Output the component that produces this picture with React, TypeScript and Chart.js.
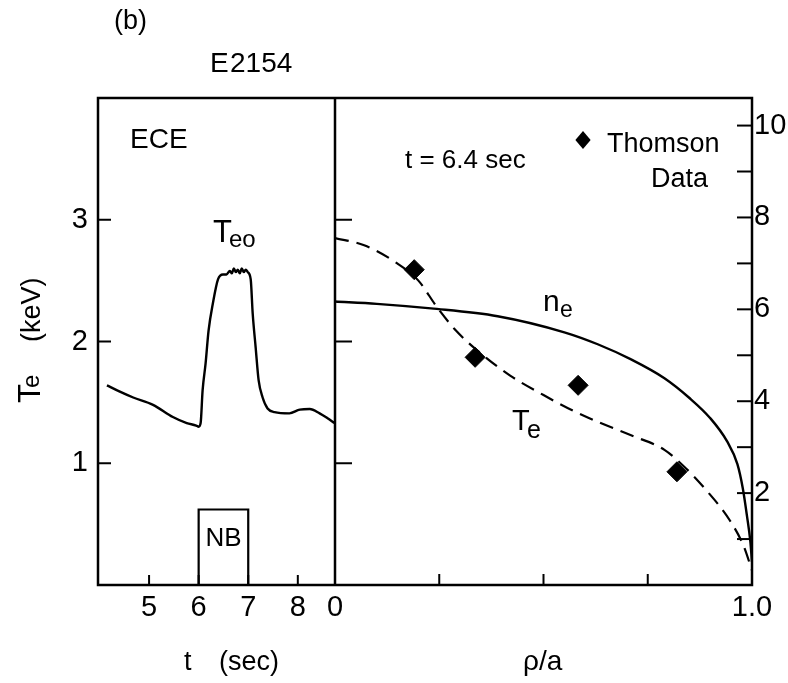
import React, { useEffect, useRef } from "react";
import { Chart, registerables } from "chart.js";

Chart.register(...registerables);

// ECE central electron temperature T_e0 versus time (sec, keV)
const eceTime = [4.15, 4.4, 4.68, 5.08, 5.48, 5.76, 5.95, 6.0, 6.04, 6.08, 6.14, 6.2, 6.29, 6.39, 6.49, 6.56, 6.63, 6.67, 6.71, 6.75, 6.79, 6.83, 6.87, 6.91, 6.95, 6.99, 7.05, 7.09, 7.15, 7.21, 7.29, 7.39, 7.53, 7.83, 8.04, 8.24, 8.44, 8.6, 8.74];
const eceTe = [1.64, 1.59, 1.54, 1.48, 1.38, 1.33, 1.31, 1.3, 1.33, 1.6, 1.82, 2.09, 2.32, 2.51, 2.55, 2.55, 2.58, 2.56, 2.6, 2.57, 2.59, 2.56, 2.6, 2.57, 2.59, 2.57, 2.51, 2.23, 1.95, 1.68, 1.54, 1.45, 1.42, 1.41, 1.44, 1.445, 1.41, 1.37, 1.33];

// Neutral-beam pulse window (sec) and the height of its marker box (keV scale)
const nbWindow = [6, 7];
const nbBoxHeight = 0.62;

// Profiles at t = 6.4 sec versus rho/a
const profileRho = [0, 0.07, 0.15, 0.2, 0.245, 0.29, 0.34, 0.42, 0.5, 0.56, 0.63, 0.71, 0.79, 0.835, 0.89, 0.947, 0.98, 1.0];
const profileTe = [2.85, 2.79, 2.64, 2.5, 2.28, 2.09, 1.93, 1.72, 1.56, 1.45, 1.34, 1.23, 1.11, 0.98, 0.78, 0.53, 0.32, 0.12];

const densityRho = [0, 0.1, 0.23, 0.39, 0.55, 0.63, 0.71, 0.79, 0.85, 0.9, 0.94, 0.965, 0.978, 0.988, 0.996, 1.0];
const densityNe = [6.17, 6.12, 6.02, 5.85, 5.5, 5.24, 4.91, 4.5, 4.07, 3.63, 3.13, 2.63, 2.1, 1.5, 0.95, 0.5];

// Thomson scattering points (keV)
const thomsonRho = [0.19, 0.336, 0.583, 0.82];
const thomsonTe = [2.59, 1.87, 1.64, 0.93];

// Axis ranges and ticks
const timeRange = [3.97, 8.75];
const timeTicks = [5, 6, 7, 8];
const rhoTicks = [0, 1];
const rhoMinorTicks = [0.25, 0.5, 0.75];
const teRange = [0, 4];
const teTicks = [1, 2, 3];
const neRange = [0, 10.6];
const neTicks = [2, 4, 6, 8, 10];
const neMinorTicks = [1, 2, 3, 4, 5, 6, 7, 8, 9, 10];

const FONT = "'Liberation Sans', Arial, sans-serif";
const INK = "#000000";

const pts = (xs: number[], ys: number[]) => xs.map((x, i) => ({ x, y: ys[i] }));

const panelDecor = {
  id: "panelDecor",
  afterDatasetsDraw(chart: any) {
    const { ctx, chartArea: a, scales } = chart;
    const xt = scales.xt;
    const xr = scales.xr;
    const y = scales.y;
    const yn = scales.yn;

    const line = (x1: number, y1: number, x2: number, y2: number) => {
      ctx.beginPath();
      ctx.moveTo(x1, y1);
      ctx.lineTo(x2, y2);
      ctx.stroke();
    };
    const text = (s: string, x: number, yy: number, size: number, align: CanvasTextAlign = "left") => {
      ctx.font = `${size}px ${FONT}`;
      ctx.textAlign = align;
      ctx.textBaseline = "alphabetic";
      ctx.fillText(s, x, yy);
    };

    ctx.save();
    ctx.strokeStyle = INK;
    ctx.fillStyle = INK;

    // frame and panel divider
    ctx.lineWidth = 2.5;
    ctx.strokeRect(a.left, a.top, a.right - a.left, a.bottom - a.top);
    line(xr.left, a.top, xr.left, a.bottom);

    // inward tick marks
    ctx.lineWidth = 2;
    teTicks.forEach((v) => {
      const py = y.getPixelForValue(v);
      line(a.left, py, a.left + 13, py);
      line(xr.left, py, xr.left + 17, py);
    });
    neMinorTicks.forEach((v) => {
      const py = yn.getPixelForValue(v);
      line(a.right - 15, py, a.right, py);
    });
    timeTicks.forEach((v) => {
      const px = xt.getPixelForValue(v);
      line(px, a.bottom, px, a.bottom - 10);
    });
    rhoMinorTicks.forEach((v) => {
      const px = xr.getPixelForValue(v);
      line(px, a.bottom, px, a.bottom - 11);
    });

    // headings
    text("(b)", 114, 29, 27);
    text("E", 210, 72, 28);
    text("2154", 230, 72, 28);

    // left panel labels
    text("ECE", 130, 148, 28);
    text("T", 213, 242, 31);
    text("eo", 229, 247, 24);
    const nbMid = (xt.getPixelForValue(nbWindow[0]) + xt.getPixelForValue(nbWindow[1])) / 2;
    text("NB", nbMid, 546, 26, "center");

    // right panel labels
    text("t = 6.4 sec", 405, 168, 26);
    // legend marker
    const lx = 583, ly = 140, lr = 9;
    ctx.beginPath();
    ctx.moveTo(lx, ly - lr);
    ctx.lineTo(lx + lr * 0.85, ly);
    ctx.lineTo(lx, ly + lr);
    ctx.lineTo(lx - lr * 0.85, ly);
    ctx.closePath();
    ctx.fill();
    text("Thomson", 607, 152, 27);
    text("Data", 708, 187, 27, "right");

    text("n", 543, 311, 30);
    text("e", 560, 317, 23);
    text("T", 512, 430, 29);
    text("e", 527, 438, 25);

    // axis titles
    text("t", 184, 670, 27);
    text("(sec)", 219, 670, 27);
    text("\u03C1/a", 523, 670, 28);

    ctx.save();
    ctx.translate(40, 403);
    ctx.rotate(-Math.PI / 2);
    text("T", 0, 0, 31);
    text("e", 15, -1, 24);
    text("(keV)", 61, 0, 27);
    ctx.restore();

    ctx.restore();
  },
};

export default function App() {
  const canvasRef = useRef<HTMLCanvasElement | null>(null);

  useEffect(() => {
    const canvas = canvasRef.current;
    if (!canvas) return;

    const tickFont = { family: FONT, size: 29 };
    const hiddenGrid = { display: false, drawTicks: false };

    const chart = new Chart(canvas, {
      type: "line",
      data: {
        datasets: [
          {
            label: "Te0 (ECE)",
            data: pts(eceTime, eceTe),
            xAxisID: "xt",
            yAxisID: "y",
            borderColor: INK,
            borderWidth: 2.4,
            pointRadius: 0,
            cubicInterpolationMode: "monotone",
            fill: false,
          },
          {
            label: "NB",
            data: [
              { x: nbWindow[0], y: 0 },
              { x: nbWindow[0], y: nbBoxHeight },
              { x: nbWindow[1], y: nbBoxHeight },
              { x: nbWindow[1], y: 0 },
            ],
            xAxisID: "xt",
            yAxisID: "y",
            borderColor: INK,
            borderWidth: 2.2,
            pointRadius: 0,
            tension: 0,
            fill: false,
          },
          {
            label: "Te",
            data: pts(profileRho, profileTe),
            xAxisID: "xr",
            yAxisID: "y",
            borderColor: INK,
            borderWidth: 2.2,
            borderDash: [14, 8],
            pointRadius: 0,
            cubicInterpolationMode: "monotone",
            fill: false,
          },
          {
            label: "ne",
            data: pts(densityRho, densityNe),
            xAxisID: "xr",
            yAxisID: "yn",
            borderColor: INK,
            borderWidth: 2.4,
            pointRadius: 0,
            cubicInterpolationMode: "monotone",
            fill: false,
          },
          {
            label: "Thomson Data",
            data: pts(thomsonRho, thomsonTe),
            xAxisID: "xr",
            yAxisID: "y",
            showLine: false,
            pointStyle: "rectRot",
            pointRadius: 10,
            pointBackgroundColor: INK,
            pointBorderColor: INK,
            pointBorderWidth: 1,
          },
        ],
      },
      options: {
        animation: false,
        responsive: true,
        maintainAspectRatio: false,
        layout: { padding: { top: 98, left: 0, right: 0, bottom: 0 } },
        plugins: {
          legend: { display: false },
          tooltip: { enabled: false },
          title: { display: false },
        },
        scales: {
          xt: {
            type: "linear",
            position: "bottom",
            stack: "panels",
            stackWeight: 237,
            min: timeRange[0],
            max: timeRange[1],
            grid: hiddenGrid,
            border: { display: false },
            afterBuildTicks: (s: any) => {
              s.ticks = timeTicks.map((v) => ({ value: v }));
            },
            afterFit: (s: any) => {
              s.height = 98;
            },
            ticks: {
              font: tickFont,
              color: INK,
              padding: 6,
              maxRotation: 0,
              autoSkip: false,
              callback: (v: any) => String(v),
            },
          },
          xr: {
            type: "linear",
            position: "bottom",
            stack: "panels",
            stackWeight: 417,
            min: 0,
            max: 1,
            grid: hiddenGrid,
            border: { display: false },
            afterBuildTicks: (s: any) => {
              s.ticks = rhoTicks.map((v) => ({ value: v }));
            },
            afterFit: (s: any) => {
              s.height = 98;
            },
            ticks: {
              font: tickFont,
              color: INK,
              padding: 6,
              maxRotation: 0,
              autoSkip: false,
              callback: (v: any) => (v === 1 ? "1.0" : "0"),
            },
          },
          y: {
            type: "linear",
            position: "left",
            min: teRange[0],
            max: teRange[1],
            grid: hiddenGrid,
            border: { display: false },
            afterBuildTicks: (s: any) => {
              s.ticks = teTicks.map((v) => ({ value: v }));
            },
            afterFit: (s: any) => {
              s.width = 98;
            },
            ticks: {
              font: tickFont,
              color: INK,
              padding: 10,
              callback: (v: any) => String(v),
            },
          },
          yn: {
            type: "linear",
            position: "right",
            min: neRange[0],
            max: neRange[1],
            grid: hiddenGrid,
            border: { display: false },
            afterBuildTicks: (s: any) => {
              s.ticks = neTicks.map((v) => ({ value: v }));
            },
            afterFit: (s: any) => {
              s.width = 36;
            },
            ticks: {
              font: tickFont,
              color: INK,
              padding: 2,
              callback: (v: any) => String(v),
            },
          },
        },
      },
      plugins: [panelDecor],
    } as any);

    return () => chart.destroy();
  }, []);

  return (
    <div style={{ position: "absolute", left: 0, top: 0, width: 788, height: 683, background: "#ffffff" }}>
      <canvas ref={canvasRef} />
    </div>
  );
}
